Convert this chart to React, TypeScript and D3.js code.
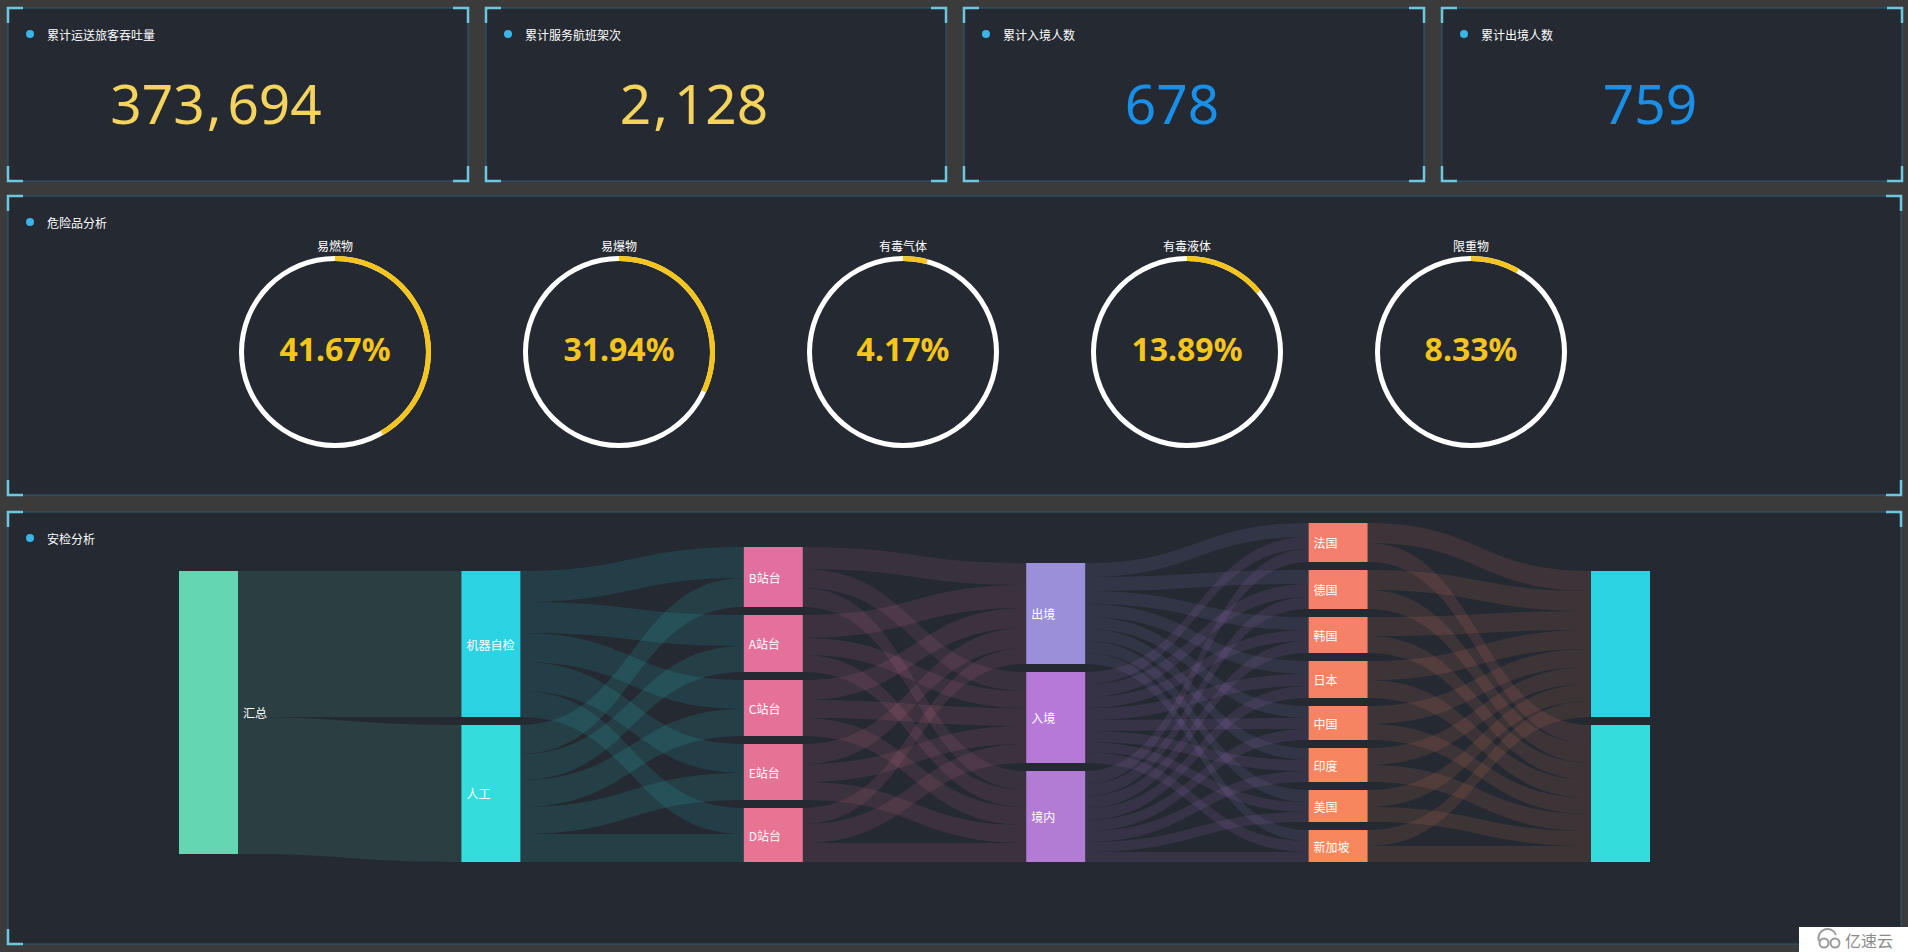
import { useEffect, useMemo } from 'react'
import * as d3 from 'd3'

const W = 1908
const H = 952

// ---- top stats ----
const statTitles = ['累计运送旅客吞吐量', '累计服务航班架次', '累计入境人数', '累计出境人数']
const statValues = [373694, 2128, 678, 759]
const statColors = ['#f4d35e', '#f4d35e', '#1a8fe8', '#1a8fe8']

// ---- dangerous goods ----
const dangerTitle = '危险品分析'
const dangerNames = ['易燃物', '易爆物', '有毒气体', '有毒液体', '限重物']
const dangerCounts = [30, 23, 3, 10, 6]

// ---- security check sankey ----
const sankeyTitle = '安检分析'
const nodeNames = [
  '汇总',
  '机器自检', '人工',
  'B站台', 'A站台', 'C站台', 'E站台', 'D站台',
  '出境', '入境', '境内',
  '法国', '德国', '韩国', '日本', '中国', '印度', '美国', '新加坡',
  'end-1', 'end-2',
]
const nodeColors = [
  '#64d6b2',
  '#2cd3e3', '#34dcdc',
  '#e26fa0', '#e4709b', '#e57198', '#e67295', '#e97392',
  '#9a8fd8', '#b679d8', '#b27cd5',
  '#f47f6e', '#f5806b', '#f58168', '#f68265', '#f68463', '#f78560', '#f7865e', '#f8875c',
  '#2cd3e3', '#34dcdc',
]
const checkTypes = ['机器自检', '人工']
const stations = ['B站台', 'A站台', 'C站台', 'E站台', 'D站台']
const borders = ['出境', '入境', '境内']
const countries = ['法国', '德国', '韩国', '日本', '中国', '印度', '美国', '新加坡']
const endNodes = ['end-1', 'end-2']

const totalToCheck = [146, 137]
const checkToStation = [
  [31, 31, 29, 29, 26],
  [29, 26, 27, 27, 28],
]
const stationToBorder = [
  [22, 19, 19],
  [23, 17, 17],
  [20, 18, 18],
  [20, 18, 18],
  [16, 19, 19],
]
const borderToCountry = [
  [14, 14, 13, 13, 12, 12, 12, 11],
  [12, 13, 11, 12, 11, 11, 10, 11],
  [13, 12, 12, 12, 11, 11, 10, 10],
]
const countryToEnd = [
  [20, 19], [20, 19], [19, 17], [19, 18], [18, 16], [17, 17], [17, 15], [16, 16],
]

const linkTable: [string, string, number][] = [
  ...checkTypes.map((t, i) => ['汇总', t, totalToCheck[i]] as [string, string, number]),
  ...checkTypes.flatMap((s, i) => stations.map((t, j) => [s, t, checkToStation[i][j]] as [string, string, number])),
  ...stations.flatMap((s, i) => borders.map((t, j) => [s, t, stationToBorder[i][j]] as [string, string, number])),
  ...borders.flatMap((s, i) => countries.map((t, j) => [s, t, borderToCountry[i][j]] as [string, string, number])),
  ...countries.flatMap((s, i) => endNodes.map((t, j) => [s, t, countryToEnd[i][j]] as [string, string, number])),
]

const PAGE_BG = '#3b3b3b'
const PANEL_BG = '#242932'
const PANEL_BORDER = '#2b5a78'
const BRACKET = '#6cc8e0'
const CJK = "'Noto Sans CJK SC', 'Noto Sans', sans-serif"

const SK = { left: 179, right: 1650, top: 523, bottom: 862, nodeWidth: 59, gap: 8 }

type SNode = {
  name: string; color: string; depth: number; value: number
  x0: number; x1: number; y0: number; y1: number
  sourceLinks: SLink[]; targetLinks: SLink[]
}
type SLink = { source: SNode; target: SNode; value: number; width: number; sy: number; ty: number }

function layoutSankey() {
  const nodes: SNode[] = nodeNames.map((name, i) => ({
    name, color: nodeColors[i], depth: 0, value: 0,
    x0: 0, x1: 0, y0: 0, y1: 0, sourceLinks: [], targetLinks: [],
  }))
  const byName = new Map(nodes.map(n => [n.name, n]))
  const links: SLink[] = linkTable.map(([s, t, v]) => {
    const l: SLink = { source: byName.get(s)!, target: byName.get(t)!, value: v, width: 0, sy: 0, ty: 0 }
    l.source.sourceLinks.push(l)
    l.target.targetLinks.push(l)
    return l
  })
  nodes.forEach(n => {
    n.value = Math.max(d3.sum(n.sourceLinks, l => l.value), d3.sum(n.targetLinks, l => l.value))
  })
  let changed = true
  while (changed) {
    changed = false
    links.forEach(l => {
      if (l.target.depth < l.source.depth + 1) { l.target.depth = l.source.depth + 1; changed = true }
    })
  }
  const columns = d3.groups(nodes, n => n.depth).sort((a, b) => a[0] - b[0]).map(d => d[1])
  const x = d3.scaleLinear().domain([0, columns.length - 1]).range([SK.left, SK.right - SK.nodeWidth])
  const ky = d3.min(columns, c => (SK.bottom - SK.top - (c.length - 1) * SK.gap) / d3.sum(c, n => n.value))!
  const h = d3.scaleLinear().domain([0, 1]).range([0, ky])

  // columns are stacked up from the bottom edge
  columns.forEach((col, d) => {
    let y = SK.bottom
    for (let i = col.length - 1; i >= 0; i--) {
      const n = col[i]
      n.x0 = x(d); n.x1 = n.x0 + SK.nodeWidth
      n.y1 = y; n.y0 = y - h(n.value)
      y = n.y0 - SK.gap
    }
  })
  // the source node lines up with the top of its targets
  columns[0].forEach(n => {
    const top = d3.min(n.sourceLinks, l => l.target.y0)!
    const hh = n.y1 - n.y0
    n.y0 = top; n.y1 = top + hh
  })

  links.forEach(l => { l.width = h(l.value) })
  nodes.forEach(n => {
    let sy = 0
    n.sourceLinks.sort((a, b) => a.target.y0 - b.target.y0).forEach(l => { l.sy = sy; sy += l.width })
    let ty = 0
    n.targetLinks.sort((a, b) => a.source.y0 - b.source.y0).forEach(l => { l.ty = ty; ty += l.width })
  })
  return { nodes, links }
}

function linkPath(l: SLink) {
  const x1 = l.source.x1, x2 = l.target.x0
  const y1 = l.source.y0 + l.sy, y2 = l.target.y0 + l.ty
  const w = l.width
  const mx = (x1 + x2) / 2
  const p = d3.path()
  p.moveTo(x1, y1)
  p.bezierCurveTo(mx, y1, mx, y2, x2, y2)
  p.lineTo(x2, y2 + w)
  p.bezierCurveTo(mx, y2 + w, mx, y1 + w, x1, y1 + w)
  p.closePath()
  return p.toString()
}

function Panel({ x, y, w, h, title }: { x: number; y: number; w: number; h: number; title: string }) {
  const L = 15
  const corners = [
    `M${x},${y + L}V${y}H${x + L}`,
    `M${x + w - L},${y}H${x + w}V${y + L}`,
    `M${x},${y + h - L}V${y + h}H${x + L}`,
    `M${x + w - L},${y + h}H${x + w}V${y + h - L}`,
  ]
  return (
    <g>
      <rect x={x} y={y} width={w} height={h} fill={PANEL_BG} stroke={PANEL_BORDER} strokeWidth={1} />
      {corners.map((d, i) => (
        <path key={i} d={d} fill="none" stroke={BRACKET} strokeWidth={2.5} />
      ))}
      <circle cx={x + 22} cy={y + 26} r={4} fill="#3bb4e6" />
      <text x={x + 39} y={y + 26} dominantBaseline="central" fill="#fff" fontSize={12} fontFamily={CJK}>
        {title}
      </text>
    </g>
  )
}

export default function App() {
  useEffect(() => {
    document.body.style.margin = '0'
    document.body.style.background = PAGE_BG
    document.body.style.overflow = 'hidden'
  }, [])

  const { nodes, links } = useMemo(layoutSankey, [])

  const statW = 460
  const statGap = 18
  const statX = (i: number) => 8 + i * (statW + statGap)
  const fullW = 1893

  const ringX = d3.scalePoint<string>().domain(dangerNames).range([335, 1471])
  const ringY = 352
  const total = d3.sum(dangerCounts)
  const pct = d3.format('.2%')
  const arc = d3.arc<{ startAngle: number; endAngle: number }>().innerRadius(91).outerRadius(96)
  const comma = d3.format(',')

  return (
    <svg width={W} height={H} style={{ display: 'block', background: PAGE_BG }}>
      {/* top stat cards */}
      {statTitles.map((t, i) => {
        const parts = comma(statValues[i]).split(',')
        return (
          <g key={t}>
            <Panel x={statX(i)} y={8} w={statW} h={173} title={t} />
            <text
              x={statX(i) + statW / 2 - 22}
              y={124}
              textAnchor="middle"
              fill={statColors[i]}
              fontSize={55}
              fontFamily="'Noto Sans', sans-serif"
            >
              {parts.map((p, k) =>
                k === 0 ? (
                  <tspan key={k}>{p}</tspan>
                ) : (
                  [<tspan key={k + 'c'} dx={2}>,</tspan>, <tspan key={k} dx={6}>{p}</tspan>]
                )
              )}
            </text>
          </g>
        )
      })}

      {/* dangerous goods */}
      <Panel x={8} y={196} w={fullW} h={299} title={dangerTitle} />
      {dangerNames.map((name, i) => {
        const cx = ringX(name)!
        const v = dangerCounts[i] / total
        return (
          <g key={name} transform={`translate(${cx},${ringY})`}>
            <path d={arc({ startAngle: 0, endAngle: Math.PI * 2 })!} fill="#ffffff" />
            <path d={arc({ startAngle: 0, endAngle: v * Math.PI * 2 })!} fill="#f6c51c" />
            <text y={-101} textAnchor="middle" fill="#fff" fontSize={12} fontFamily={CJK}>
              {name}
            </text>
            <text
              y={9}
              textAnchor="middle"
              fill="#f6c51c"
              fontSize={32}
              fontWeight={700}
              fontFamily="'Noto Sans', sans-serif"
            >
              {pct(v)}
            </text>
          </g>
        )
      })}

      {/* security check sankey */}
      <Panel x={8} y={512} w={fullW} h={432} title={sankeyTitle} />
      <g>
        {links.map((l, i) => (
          <path key={i} d={linkPath(l)} fill={l.source.color} fillOpacity={0.12} />
        ))}
      </g>
      <g>
        {nodes.map(n => (
          <rect key={n.name} x={n.x0} y={n.y0} width={n.x1 - n.x0} height={n.y1 - n.y0} fill={n.color} />
        ))}
      </g>
      <g fontFamily={CJK} fontSize={12} fill="#fff">
        {nodes
          .filter(n => n.sourceLinks.length > 0)
          .map(n => (
            <text
              key={n.name}
              x={n.depth === 0 ? n.x1 + 5 : n.x0 + 5}
              y={(n.y0 + n.y1) / 2}
              dominantBaseline="central"
            >
              {n.name}
            </text>
          ))}
      </g>

      {/* watermark */}
      <g>
        <rect x={1799} y={927} width={109} height={25} fill="#ffffff" />
        <circle cx={1824} cy={943} r={4.5} fill="none" stroke="#9a9a9a" strokeWidth={2} />
        <circle cx={1835} cy={943} r={4.5} fill="none" stroke="#9a9a9a" strokeWidth={2} />
        <path d="M1819,941 A9,9 0 0 1 1836,935" fill="none" stroke="#9a9a9a" strokeWidth={2} />
        <text x={1845} y={940} dominantBaseline="central" fill="#8a8a8a" fontSize={16} fontFamily={CJK}>
          亿速云
        </text>
      </g>
    </svg>
  )
}
